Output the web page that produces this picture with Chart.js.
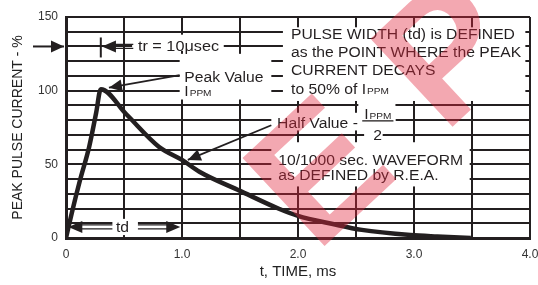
<!DOCTYPE html>
<html>
<head>
<meta charset="utf-8">
<script src="https://cdn.jsdelivr.net/npm/chart.js@4.4.0/dist/chart.umd.min.js"></script>
<style>
  html, body { margin: 0; padding: 0; background: #fff; }
  #wrap { width: 538px; height: 285px; }
</style>
</head>
<body>
<div id="wrap"><canvas id="pulseChart"></canvas></div>
<script>
// waveform: time in ms, current in % of Ippm
const timeMs = [0, 0.05, 0.12, 0.2, 0.26, 0.3, 0.52, 0.8, 1.0, 1.15, 1.5, 1.83, 2.0, 2.3, 2.55, 2.97, 3.2, 3.49];
const currentPct = [0, 17, 39, 62, 85, 101, 84, 62, 53, 45, 32, 20, 15, 9.5, 5.5, 2, 1, 0];

const xTickLabels = { 0: '0', 1: '1.0', 2: '2.0', 3: '3.0', 4: '4.0' };
const yTickLabels = { 0: '0', 50: '50', 100: '100', 150: '150' };

const ink = '#231f20';
const textFont = '"Liberation Sans", Arial, sans-serif';

function txt(ctx, s, x, y, size, color) {
  ctx.save();
  ctx.font = size + 'px ' + textFont;
  ctx.fillStyle = color || ink;
  ctx.translate(x, y);
  ctx.scale(1.12, 1);
  ctx.fillText(s, 0, 0);
  const w = ctx.measureText(s).width * 1.12;
  ctx.restore();
  return w;
}

function head(ctx, x1, y1, x2, y2, len, half) {
  const a = Math.atan2(y2 - y1, x2 - x1);
  ctx.beginPath();
  ctx.moveTo(x2, y2);
  ctx.lineTo(x2 - len * Math.cos(a) + half * Math.sin(a), y2 - len * Math.sin(a) - half * Math.cos(a));
  ctx.lineTo(x2 - len * Math.cos(a) - half * Math.sin(a), y2 - len * Math.sin(a) + half * Math.cos(a));
  ctx.closePath();
  ctx.fill();
}

function arrow(ctx, x1, y1, x2, y2) {
  ctx.beginPath();
  ctx.moveTo(x1, y1);
  ctx.lineTo(x2, y2);
  ctx.stroke();
  head(ctx, x1, y1, x2, y2, 13, 6);
}

// double shaft arrow, horizontal
function dblArrow(ctx, xFrom, xTip, y) {
  const dir = Math.sign(xTip - xFrom);
  ctx.lineWidth = 1.3;
  ctx.beginPath();
  ctx.moveTo(xFrom, y - 2); ctx.lineTo(xTip - dir * 10, y - 2);
  ctx.moveTo(xFrom, y + 2); ctx.lineTo(xTip - dir * 10, y + 2);
  ctx.stroke();
  head(ctx, xFrom, y, xTip, y, 14, 6);
}

const whiteBoxes = {
  id: 'whiteBoxes',
  beforeDatasetsDraw(chart) {
    const { ctx, scales: { x, y } } = chart;
    const boxes = [
      [0.57, 1.36, 138, 127],  // tr
      [0.98, 1.77, 125, 94],   // peak value
      [1.87, 3.96, 143, 93],   // pulse width text
      [1.77, 2.84, 85, 73],    // half value
      [2.52, 2.84, 91, 73],
      [2.57, 2.73, 73, 65],    // "2"
      [1.77, 3.48, 65, 35],    // 10/1000
      [0.4, 0.62, 13, 2]       // td
    ];
    ctx.save();
    ctx.fillStyle = '#fff';
    boxes.forEach(([t0, t1, v0, v1]) => {
      const px0 = x.getPixelForValue(t0), px1 = x.getPixelForValue(t1);
      const py0 = y.getPixelForValue(v0), py1 = y.getPixelForValue(v1);
      ctx.fillRect(px0, py0, px1 - px0, py1 - py0);
    });
    ctx.restore();
  }
};

const notes = {
  id: 'notes',
  afterDraw(chart) {
    const { ctx, scales: { x, y } } = chart;
    const X = v => x.getPixelForValue(v), Y = v => y.getPixelForValue(v);
    ctx.save();
    ctx.strokeStyle = ink;
    ctx.fillStyle = ink;
    ctx.lineWidth = 2;
    ctx.textBaseline = 'alphabetic';

    // tr marker
    const yTr = Y(130);
    arrow(ctx, 33, yTr, X(0) - 2, yTr);
    ctx.lineWidth = 2;
    ctx.beginPath(); ctx.moveTo(X(0.3), yTr - 9); ctx.lineTo(X(0.3), yTr + 11); ctx.stroke();
    dblArrow(ctx, X(0.58), X(0.31), yTr);
    txt(ctx, 'tr = 10\u03bcsec', X(0.62), yTr + 5, 14.5);

    // peak value
    txt(ctx, 'Peak Value', X(1.02), Y(106), 14);
    let w = txt(ctx, 'I', X(1.02), Y(96.5), 14);
    txt(ctx, 'PPM', X(1.02) + w + 1, Y(96.5), 9);
    ctx.lineWidth = 1.8;
    arrow(ctx, X(0.98), Y(110.5), X(0.37), Y(102));

    // pulse width definition
    const lx = X(1.94);
    txt(ctx, 'PULSE WIDTH (td) is DEFINED', lx, Y(135), 14);
    txt(ctx, 'as the POINT WHERE the PEAK', lx, Y(123), 14);
    txt(ctx, 'CURRENT DECAYS', lx, Y(110.5), 14);
    w = txt(ctx, 'to 50% of I', lx, Y(98), 14);
    txt(ctx, 'PPM', lx + w + 1, Y(98), 9);

    // half value
    w = txt(ctx, 'Half Value - ', X(1.82), Y(75), 14);
    const fx = X(1.82) + w;
    const iw = txt(ctx, 'I', fx + 2, Y(80.5), 14);
    const pw = txt(ctx, 'PPM', fx + 2 + iw + 1, Y(80.5), 9);
    ctx.lineWidth = 1.3;
    ctx.beginPath(); ctx.moveTo(fx, Y(79.5)); ctx.lineTo(fx + iw + pw + 5, Y(79.5)); ctx.stroke();
    txt(ctx, '2', fx + (iw + pw) / 2 - 2, Y(66.5), 14);
    ctx.lineWidth = 1.8;
    arrow(ctx, X(1.77), Y(76.5), X(1.05), Y(53));

    // waveform note
    txt(ctx, '10/1000 sec. WAVEFORM', X(1.83), Y(49.5), 14);
    txt(ctx, 'as DEFINED by R.E.A.', X(1.83), Y(39.5), 14);

    // td
    const yTd = Y(7.5);
    dblArrow(ctx, X(0.4), X(0.02), yTd);
    dblArrow(ctx, X(0.62), X(0.985), yTd);
    txt(ctx, 'td', X(0.5) - 8, yTd + 5, 14);

    // watermark
    ctx.globalAlpha = 0.4;
    ctx.fillStyle = '#e0263b';
    ctx.translate(316, 254);
    ctx.rotate(-43 * Math.PI / 180);
    ctx.font = 'bold 175px ' + textFont;
    ctx.fillText('E', 0, 0);
    ctx.fillText('P', 175, 0);
    ctx.restore();
  }
};

new Chart(document.getElementById('pulseChart'), {
  type: 'line',
  data: {
    datasets: [{
      data: timeMs.map((t, i) => ({ x: t, y: currentPct[i] })),
      borderColor: ink,
      borderWidth: 4.5,
      pointRadius: 0,
      fill: false,
      cubicInterpolationMode: 'monotone'
    }]
  },
  options: {
    responsive: true,
    maintainAspectRatio: false,
    animation: false,
    layout: { padding: { top: 17, right: 0, left: 0, bottom: 0 } },
    plugins: { legend: { display: false }, tooltip: { enabled: false } },
    scales: {
      x: {
        type: 'linear', min: 0, max: 4,
        afterFit: s => { s.height = 47; s.paddingRight = 8; s.paddingLeft = 0; },
        grid: { color: ink, lineWidth: 2, drawTicks: false },
        border: { color: ink, width: 3 },
        ticks: {
          stepSize: 0.5, autoSkip: false, maxRotation: 0, padding: 9, color: '#333',
          font: { family: textFont, size: 12 },
          callback: v => xTickLabels[v] ?? ''
        },
        title: { display: true, text: 't, TIME, ms', color: '#222', font: { family: textFont, size: 15 }, padding: { top: 2 } }
      },
      y: {
        min: 0, max: 150,
        afterFit: s => { s.width = 66; },
        grid: { color: ink, lineWidth: 2, drawTicks: false },
        border: { color: ink, width: 3 },
        ticks: {
          stepSize: 10, autoSkip: false, padding: 8, color: '#333',
          font: { family: textFont, size: 12 },
          callback: v => yTickLabels[v] ?? ''
        },
        title: { display: true, text: 'PEAK PULSE CURRENT - %', color: '#222', font: { family: textFont, size: 14 }, padding: { top: 10, bottom: 0 } }
      }
    }
  },
  plugins: [whiteBoxes, notes]
});
</script>
</body>
</html>
